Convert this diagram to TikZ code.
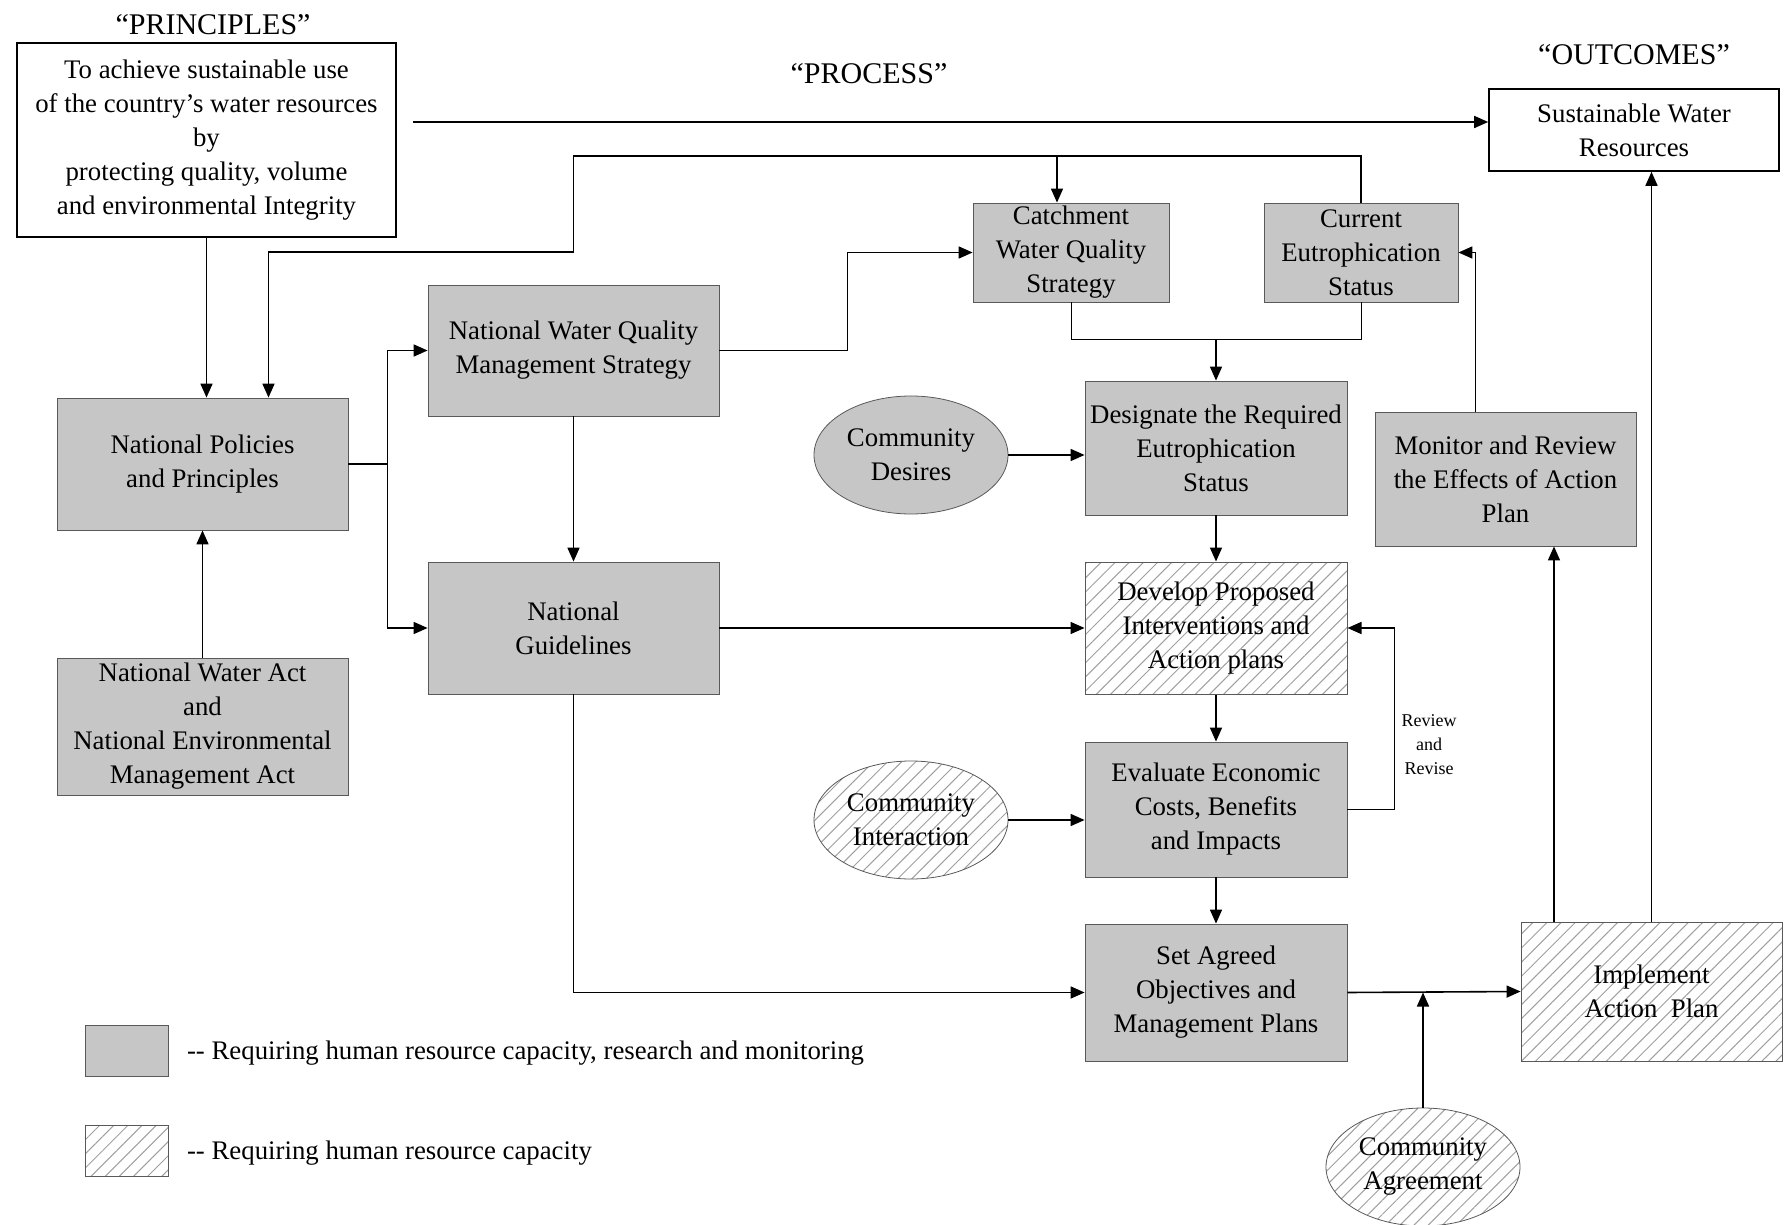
\documentclass[tikz,border=0pt]{standalone}
\usepackage{fontspec}
\setmainfont{Liberation Serif}
\usetikzlibrary{arrows.meta,patterns.meta,shapes.geometric}

\tikzset{
    gbox/.style={draw=gray!70!black, fill=gray!45, align=center, inner sep=1pt},
    hbox/.style={draw=gray!70!black, pattern={Lines[angle=45,distance=5pt,line width=.5pt]}, pattern color=gray!75, align=center, inner sep=1pt},
    wbox/.style={draw, thick, fill=white, align=center, inner sep=1pt},
    gell/.style={gbox, ellipse, minimum width=97pt, minimum height=59pt},
    hell/.style={hbox, ellipse, minimum width=97pt, minimum height=59pt},
    arr/.style={-{Triangle[length=7pt,width=6pt]}, thick},
    title/.style={font=\fontsize{15}{18}\selectfont}
}

\begin{document}
\begin{tikzpicture}[x=0.5pt, y=-0.5pt, font=\fontsize{13.4}{17}\selectfont]
    \useasboundingbox (0,0) rectangle (1785,1225);

    % column headings
    \node[title] (tprin) at (213,25) {``PRINCIPLES''};
    \node[title] (tproc) at (869,74) {``PROCESS''};
    \node[title] (toutc) at (1634,55) {``OUTCOMES''};

    % boxes
    \node[wbox, minimum width=189.5pt, minimum height=97pt] (princ) at (206.5,140)
        {To achieve sustainable use\\of the country’s water resources\\by\\protecting quality, volume\\and environmental Integrity};
    \node[wbox, minimum width=145pt, minimum height=41pt] (sust) at (1634,130) {Sustainable Water\\Resources};
    \node[gbox, minimum width=98pt, minimum height=49.5pt] (catch) at (1071,252.5) {Catchment\\Water Quality\\Strategy};
    \node[gbox, minimum width=97pt, minimum height=49.5pt] (curr) at (1361,252.5) {Current\\Eutrophication\\Status};
    \node[gbox, minimum width=145.5pt, minimum height=65.5pt] (nwqms) at (573.5,350.5) {National Water Quality\\Management Strategy};
    \node[gbox, minimum width=145.5pt, minimum height=66pt] (npp) at (202.5,464) {National Policies\\and Principles};
    \node[gbox, minimum width=145.5pt, minimum height=68.5pt] (nwa) at (202.5,726.5) {National Water Act\\and\\National Environmental\\Management Act};
    \node[gbox, minimum width=145.5pt, minimum height=66pt] (guide) at (573.5,628) {National\\Guidelines};
    \node[gell] (desires) at (911,455) {Community\\Desires};
    \node[gbox, minimum width=131pt, minimum height=67pt] (desig) at (1216,448) {Designate the Required\\Eutrophication\\Status};
    \node[gbox, minimum width=130.5pt, minimum height=67pt] (monit) at (1505.5,479) {Monitor and Review\\the Effects of Action\\Plan};
    \node[hbox, minimum width=131pt, minimum height=66pt] (develop) at (1216,628) {Develop Proposed\\Interventions and\\Action plans};
    \node[hell] (interact) at (911,820) {Community\\Interaction};
    \node[gbox, minimum width=131pt, minimum height=67.5pt] (evalu) at (1216,809.5) {Evaluate Economic\\Costs, Benefits\\and Impacts};
    \node[gbox, minimum width=131pt, minimum height=68.5pt] (setobj) at (1216,992.5) {Set Agreed\\Objectives and\\Management Plans};
    \node[hbox, minimum width=130.5pt, minimum height=69.5pt] (implem) at (1651.5,991.5) {Implement\\Action\ \ Plan};
    \node[hell] (agree) at (1423,1167) {Community\\Agreement};

    % connectors
    \coordinate (loop) at (0,156);
    \coordinate (step) at (0,252);
    \coordinate (merge) at (0,339);
    \draw[arr] (princ.south) -- (princ.south |- npp.north);
    \draw[arr] (nwa.north) -- (npp.south);
    \draw[arr] ([xshift=8pt]princ.east |- 0,122) -- (sust.west |- 0,122);
    \draw[arr] (curr.north) |- (nwqms.north |- loop) -- (nwqms.north |- step) -| ([xshift=33pt]npp.north);
    \draw[arr] ([xshift=-7pt]catch.north |- loop) -- ([xshift=-7pt]catch.north);
    \draw[arr] (npp.east) -- ++(19.5pt,0) |- (nwqms.west);
    \draw[arr] (npp.east) -- ++(19.5pt,0) |- (guide.west);
    \draw[arr] (nwqms.east) -- ++(64pt,0) |- (catch.west);
    \draw[arr] (nwqms.south) -- (guide.north);
    \draw (catch.south) |- (merge -| curr.south) -- (curr.south);
    \draw[arr] (desig.north |- merge) -- (desig.north);
    \draw[arr] (desires.east) -- (desires.east -| desig.west);
    \draw[arr] (desig.south) -- (develop.north);
    \draw[arr] (guide.east) -- (develop.west);
    \draw[arr] (develop.south) -- (evalu.north);
    \draw[arr] (interact.east) -- (interact.east -| evalu.west);
    \draw[arr] (evalu.east) -- ++(23.5pt,0) |- (develop.east);
    \node[font=\fontsize{9}{12}\selectfont, align=center] (revise) at (1429,745) {Review\\and\\Revise};
    \draw[arr] (evalu.south) -- (setobj.north);
    \draw[arr] (guide.south) |- (setobj.west);
    \draw[arr] (setobj.east) -- (implem.west);
    \draw[arr] (agree.north) -- (agree.north |- setobj.east);
    \draw[arr] ([xshift=-48.75pt]implem.north) -- ([xshift=-48.75pt]implem.north |- monit.south);
    \draw[arr] (implem.north) -- (implem.north |- sust.south);
    \draw[arr] ([xshift=-15pt]monit.north) |- (curr.east);

    % legend
    \node[gbox, minimum width=41.5pt, minimum height=25.5pt] (leg1) at (126.5,1050.5) {};
    \node[hbox, minimum width=41.5pt, minimum height=25.5pt] (leg2) at (126.5,1150.5) {};
    \node[anchor=west] (legtxt1) at (180,1053) {-{}- Requiring human resource capacity, research and monitoring};
    \node[anchor=west] (legtxt2) at (180,1153) {-{}- Requiring human resource capacity};
\end{tikzpicture}
\end{document}
